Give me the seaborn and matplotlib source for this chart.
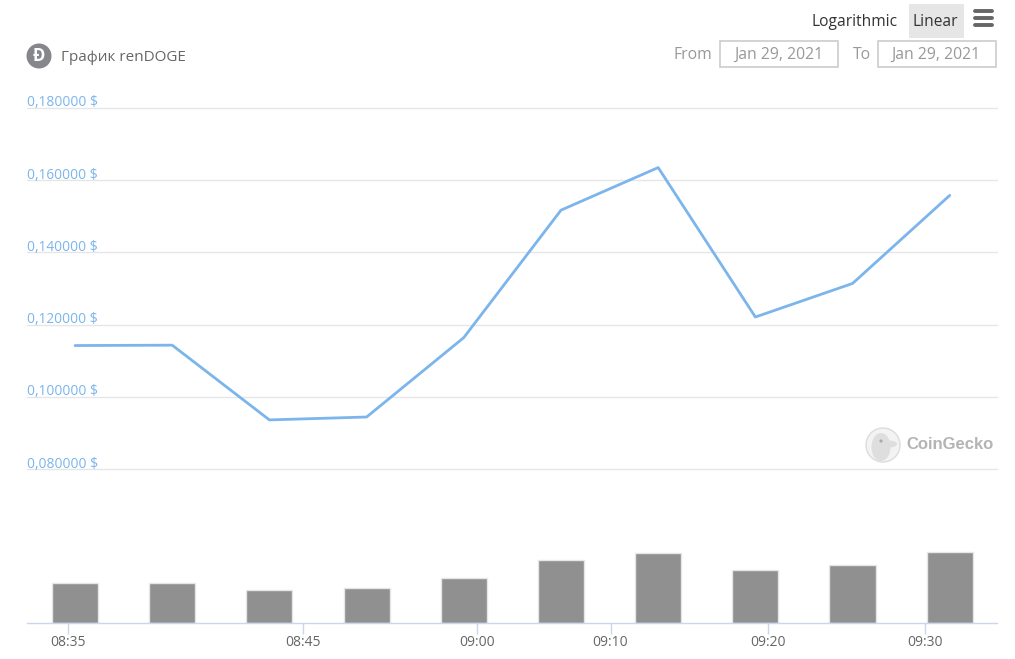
import matplotlib
matplotlib.use("Agg")
import matplotlib.pyplot as plt
from matplotlib.patches import Circle, Ellipse, Rectangle
import pandas as pd
import seaborn as sns

# price and volume per 5 min slot
slots = [0, 1, 2, 3, 4, 5, 6, 7, 8, 9]
prices = [0.1142, 0.1143, 0.0936, 0.0944, 0.1164, 0.1517, 0.1635, 0.1221, 0.1314, 0.1558]
volumes = [40, 40, 33, 35, 45, 63, 70, 53, 58, 71]

price_ticks = [0.08, 0.10, 0.12, 0.14, 0.16, 0.18]
price_labels = ["0,080000 $", "0,100000 $", "0,120000 $", "0,140000 $", "0,160000 $", "0,180000 $"]

# the axis is ordinal, so the time labels don't sit on the slots
time_ticks = [-0.07, 2.35, 4.14, 5.51, 7.13, 8.75]
time_labels = ["08:35", "08:45", "09:00", "09:10", "09:20", "09:30"]

W, H = 1015, 659
LINE_BLUE = "#7cb5ec"
GRID = "#e6e6e6"

sns.set_theme(style="white")
plt.rcParams["font.family"] = ["Open Sans", "DejaVu Sans"]


def px_axes(fig, left, top, right, bottom, **kw):
    return fig.add_axes([left / W, 1 - bottom / H, (right - left) / W, (bottom - top) / H], **kw)


fig = plt.figure(figsize=(W / 100, H / 100), dpi=100, facecolor="white")

# price panel
ax = px_axes(fig, 27, 108, 997, 469)
sns.lineplot(x=slots, y=prices, color=LINE_BLUE, linewidth=2, ax=ax, zorder=3)
ax.set_xlim(-0.494, 9.486)
ax.set_ylim(0.08, 0.18)
ax.set_xticks([])
ax.set_yticks(price_ticks)
ax.set_yticklabels([])
ax.tick_params(left=False)
ax.grid(axis="y", color=GRID, linewidth=1)
ax.set_axisbelow(True)
for g in ax.get_ygridlines():
    g.set_clip_on(False)
sns.despine(ax=ax, left=True, bottom=True)
for val, lab in zip(price_ticks, price_labels):
    ax.annotate(lab, xy=(0, val), xycoords=("axes fraction", "data"), xytext=(0, 3.6),
                textcoords="offset points", fontsize=9.9, color=LINE_BLUE, ha="left", va="center")

# volume panel, y units are read as pixels
vol = px_axes(fig, 27, 540, 997, 623)
df = pd.DataFrame({"slot": slots, "volume": volumes})
sns.barplot(data=df, x="slot", y="volume", color="#909090", saturation=1, width=0.475,
            edgecolor="#e6e6e6", linewidth=1, ax=vol)
vol.set_xlim(-0.494, 9.486)
vol.set_ylim(0, 83)
vol.set_yticks([])
vol.set_xlabel("")
vol.set_ylabel("")
vol.set_xticks(time_ticks)
vol.set_xticklabels(time_labels, fontsize=10, color="#666666")
vol.tick_params(axis="x", length=8, width=1, color="#ccd6eb", pad=1, bottom=True)
sns.despine(ax=vol, left=True)
vol.spines["bottom"].set_color("#ccd6eb")
vol.spines["bottom"].set_linewidth(1)

# page furniture in pixel coords
ui = fig.add_axes([0, 0, 1, 1], zorder=5)
ui.set_xlim(0, W)
ui.set_ylim(H, 0)
ui.axis("off")

ui.add_patch(Circle((39, 56), 12.5, color="#85878a", lw=0))
ui.text(39, 56, "Ð", color="white", fontsize=12, fontweight="bold", ha="center", va="center")
ui.text(61, 57.5, "График renDOGE", fontsize=11, color="#666666", va="center")

ui.text(812, 22.5, "Logarithmic", fontsize=11.2, color="#333333", va="center")
ui.add_patch(Rectangle((909, 4), 55, 34, color="#e6e6e6", lw=0))
ui.text(935.5, 22.5, "Linear", fontsize=11.2, color="#333333", va="center", ha="center")
for y in [11, 18, 24.5]:
    ui.plot([975, 992], [y, y], color="#666666", lw=2.8, solid_capstyle="round")

ui.text(674, 55, "From", fontsize=11.3, color="#999999", va="center")
ui.text(853, 55, "To", fontsize=11.3, color="#999999", va="center")
for x0 in [720.5, 878]:
    ui.add_patch(Rectangle((x0, 41), 118, 26, facecolor="white", edgecolor="#cccccc", lw=1.2))
    ui.text(x0 + 58, 55, "Jan 29, 2021", fontsize=11.3, color="#999999", va="center", ha="center")

# CoinGecko watermark
ui.add_patch(Circle((883, 445), 17, facecolor="#f3f3f3", edgecolor="#dcdcdc", lw=1))
ui.add_patch(Ellipse((881, 447), 19, 28, color="#dedede", lw=0))
ui.add_patch(Ellipse((889, 444), 16, 7, color="#dedede", lw=0))
ui.add_patch(Circle((881, 441), 1.6, color="#aaaaaa", lw=0))
ui.text(906, 444.5, "CoinGecko", fontsize=12, color="#b4b4b4", fontweight="bold", va="center",
        family="Liberation Sans")

fig.savefig("out.png", dpi=100)
